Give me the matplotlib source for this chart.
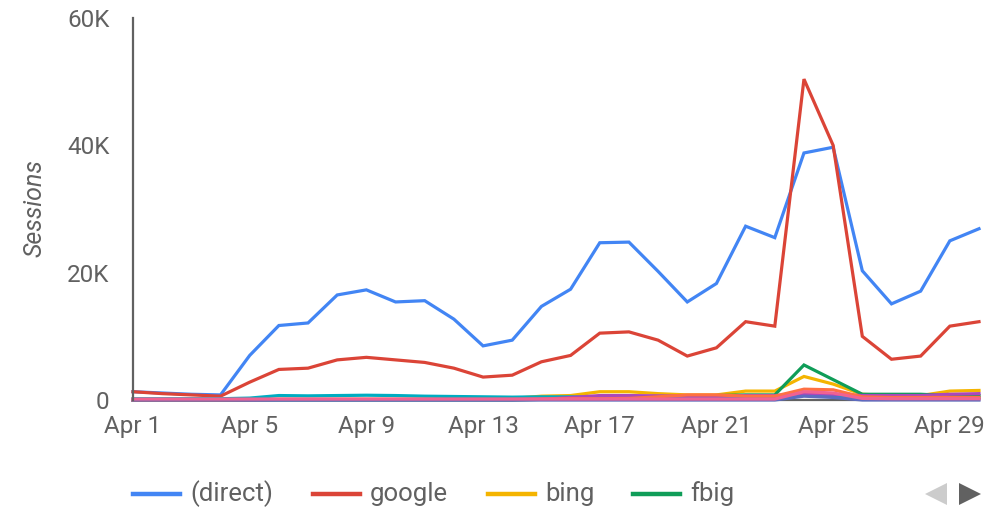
import matplotlib
matplotlib.use("Agg")
import matplotlib.pyplot as plt
from matplotlib.lines import Line2D
import numpy as np

plt.rcParams['font.family'] = ['Roboto', 'DejaVu Sans']

days = list(range(1, 31))
tick_days = [1, 5, 9, 13, 17, 21, 25, 29]
tick_labels = [f"Apr {d}" for d in tick_days]
y_ticks = [0, 20000, 40000, 60000]
y_tick_labels = ["0", "20K", "40K", "60K"]

direct = [1300, 1100, 900, 800, 7000, 11700, 12100, 16500, 17300, 15400, 15600, 12700,
          8500, 9400, 14700, 17400, 24700, 24800, 20200, 15400, 18300, 27300, 25500,
          38800, 39700, 20300, 15100, 17100, 25000, 26900]
google = [1300, 1000, 800, 600, 2800, 4800, 5000, 6300, 6700, 6300, 5900, 5000,
          3600, 3900, 6000, 7000, 10500, 10700, 9400, 6900, 8200, 12300, 11600,
          50400, 40000, 10000, 6400, 6900, 11600, 12300]
bing = [0, 0, 0, 0, 50, 100, 100, 100, 100, 100, 150, 150, 200, 250, 600, 700,
        1300, 1300, 1000, 800, 800, 1400, 1400, 3700, 2500, 900, 700, 700, 1400, 1500]
fbig = [0, 0, 0, 0, 0, 0, 0, 0, 0, 0, 0, 0, 0, 0, 100, 200, 300, 300, 400, 500,
        700, 800, 800, 5500, 3200, 900, 900, 900, 700, 700]
other_cyan = [200, 200, 200, 200, 300, 700, 650, 700, 750, 700, 600, 550, 500, 450,
              500, 500, 450, 400, 400, 400, 450, 400, 400, 900, 700, 400, 350, 350, 350, 350]
other_purple = [0, 0, 0, 0, 0, 50, 50, 50, 50, 50, 50, 50, 50, 50,
                100, 400, 700, 700, 650, 600, 600, 700, 700, 1000, 900, 700, 700, 700, 900, 1000]
other_orange = [0, 0, 0, 0, 50, 100, 100, 100, 100, 100, 100, 100, 100, 100,
                150, 200, 200, 250, 500, 800, 800, 600, 600, 1700, 1600, 500, 400, 400, 400, 400]
other_indigo = [0, 0, 0, 0, 0, 0, 0, 0, 0, 0, 0, 0, 0, 0, 0, 0, 0, 0, 0,
                0, 0, 0, 0, 600, 400, 0, 0, 0, 0, 0]
other_pink = [150, 150, 150, 150, 150, 150, 150, 150, 150, 150, 150, 150, 150, 150,
              150, 150, 150, 150, 150, 150, 150, 150, 150, 1300, 1100, 250, 200, 200, 200, 200]

series = [
    ("(direct)", direct, "#4285F4"),
    ("google", google, "#DB4437"),
    ("bing", bing, "#F4B400"),
    ("fbig", fbig, "#0F9D58"),
    ("facebook", other_cyan, "#00ACC1"),
    ("newsletter", other_purple, "#AB47BC"),
    ("twitter", other_orange, "#FF7043"),
    ("linkedin", other_indigo, "#5C6BC0"),
    ("reddit", other_pink, "#F06292"),
]

fig = plt.figure(figsize=(10.04, 5.11), dpi=100)
ax = fig.add_axes([133/1004, 1 - 400/511, (979 - 133)/1004, (400 - 18)/511])

for name, vals, col in series:
    ax.plot(days, vals, color=col, lw=2.3, solid_joinstyle='miter', clip_on=False)

ax.set_xlim(1, 30)
ax.set_ylim(0, 60000)
ax.set_xticks(tick_days)
ax.set_xticklabels(tick_labels)
ax.set_yticks(y_ticks)
ax.set_yticklabels(y_tick_labels)

tc = "#616161"
ax.tick_params(axis='both', length=0, labelsize=17.5, colors=tc)
ax.tick_params(axis='x', pad=11)
ax.tick_params(axis='y', pad=17)
for s in ['top', 'right']:
    ax.spines[s].set_visible(False)
ax.spines['left'].set_color(tc)
ax.spines['left'].set_linewidth(1.6)
ax.spines['bottom'].set_color(tc)
ax.spines['bottom'].set_linewidth(1.6)
ax.spines['bottom'].set_zorder(0)

fig.text(35/1004, 1 - 208/511, "Sessions", rotation=90, style='italic',
         fontsize=18, color=tc, ha='center', va='center')

# legend (first four series, paged)
leg_x = [133, 313, 488, 633]
leg_y = 1 - 494/511
for (name, vals, col), x0 in zip(series[:4], leg_x):
    fig.add_artist(Line2D([x0/1004, (x0 + 47)/1004], [leg_y, leg_y], color=col, lw=3.2,
                          transform=fig.transFigure))
    fig.text((x0 + 57)/1004, leg_y, name, fontsize=18.5, color=tc, ha='left', va='center')

fig.add_artist(Line2D([936/1004], [leg_y], marker='<', markersize=16, color='#cccccc',
                      markeredgewidth=0, transform=fig.transFigure))
fig.add_artist(Line2D([970/1004], [leg_y], marker='>', markersize=16, color='#616161',
                      markeredgewidth=0, transform=fig.transFigure))

fig.savefig("out.png", dpi=100)
